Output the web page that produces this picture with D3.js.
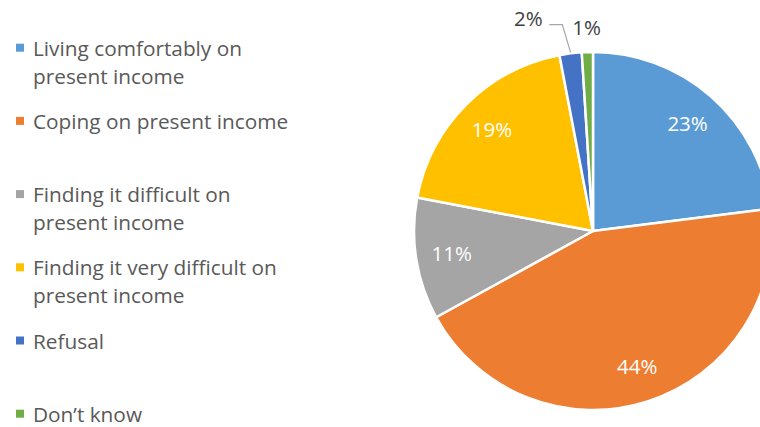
<!DOCTYPE html>
<html>
<head>
<meta charset="utf-8">
<script src="https://cdn.jsdelivr.net/npm/d3@7"></script>
<style>
  html, body { margin: 0; padding: 0; background: #fff; }
  svg { display: block; }
  text { font-family: "Open Sans", Lato, sans-serif; }
</style>
</head>
<body>
<svg id="chart" width="760" height="427"></svg>
<script>
// ---- data ----
const categories = [
  "Living comfortably on present income",
  "Coping on present income",
  "Finding it difficult on present income",
  "Finding it very difficult on present income",
  "Refusal",
  "Don\u2019t know"
];
const legendLines = [
  ["Living comfortably on", "present income"],
  ["Coping on present income"],
  ["Finding it difficult on", "present income"],
  ["Finding it very difficult on", "present income"],
  ["Refusal"],
  ["Don\u2019t know"]
];
const values = [23, 44, 11, 19, 2, 1];
const colors = ["#5B9BD5", "#ED7D31", "#A5A5A5", "#FFC000", "#4472C4", "#70AD47"];

// ---- layout ----
const W = 760, H = 427;
const cx = 593, cy = 231, R = 179;
const svg = d3.select("#chart");

const pie = d3.pie().sort(null).value(d => d)(values);
const arc = d3.arc().innerRadius(0).outerRadius(R);

const g = svg.append("g").attr("transform", `translate(${cx},${cy})`);
g.selectAll("path.slice")
  .data(pie)
  .join("path")
  .attr("class", "slice")
  .attr("d", arc)
  .attr("fill", (d, i) => colors[i])
  .attr("stroke", "#fff")
  .attr("stroke-width", 2.5)
  .attr("stroke-linejoin", "round");

// inside labels
const inArc = d3.arc().innerRadius(143).outerRadius(143);
const total = d3.sum(values);
const fmt = v => Math.round(v / total * 100) + "%";

g.selectAll("text.inlabel")
  .data(pie.filter(d => d.data >= 5))
  .join("text")
  .attr("class", "inlabel")
  .attr("transform", d => `translate(${inArc.centroid(d)})`)
  .attr("text-anchor", "middle")
  .attr("dy", "0.35em")
  .attr("fill", "#fff")
  .attr("font-size", 20.5)
  .text(d => fmt(d.data));

// outside labels (small slices)
const small = pie.filter(d => d.data < 5);
const outR = { 4: 222, 5: 203 };
const angShift = { 4: -0.17, 5: 0 };
const edgeArc = d3.arc().innerRadius(R).outerRadius(R);
function polar(r, a) { return [r * Math.sin(a), -r * Math.cos(a)]; }

small.forEach(d => {
  const mid = (d.startAngle + d.endAngle) / 2;
  const i = d.index;
  const lp = polar(outR[i], mid + angShift[i]);
  if (angShift[i] !== 0) {
    const e = edgeArc.centroid(d);
    const knee = [lp[0] + 34, lp[1] + 6];
    const start = [lp[0] + 21, lp[1] + 6];
    g.append("path")
      .attr("d", d3.line()([start, knee, [e[0], e[1] - 1]]))
      .attr("fill", "none")
      .attr("stroke", "#A6A6A6")
      .attr("stroke-width", 1.2);
  }
  g.append("text")
    .attr("x", lp[0]).attr("y", lp[1])
    .attr("text-anchor", "middle")
    .attr("dy", "0.35em")
    .attr("fill", "#404040")
    .attr("font-size", 20.5)
    .text(fmt(d.data));
});

// ---- legend ----
const leg = svg.append("g");
const entry = leg.selectAll("g.entry")
  .data(categories)
  .join("g")
  .attr("class", "entry")
  .attr("transform", (d, i) => `translate(0,${55.7 + 73.2 * i})`);

entry.append("rect")
  .attr("x", 16).attr("y", -12)
  .attr("width", 8).attr("height", 8)
  .attr("fill", (d, i) => colors[i]);

entry.append("text")
  .attr("x", 33)
  .attr("fill", "#595959")
  .attr("font-size", 20.8)
  .selectAll("tspan")
  .data((d, i) => legendLines[i])
  .join("tspan")
  .attr("x", 33)
  .attr("y", (d, j) => j * 28)
  .text(d => d);
</script>
</body>
</html>
